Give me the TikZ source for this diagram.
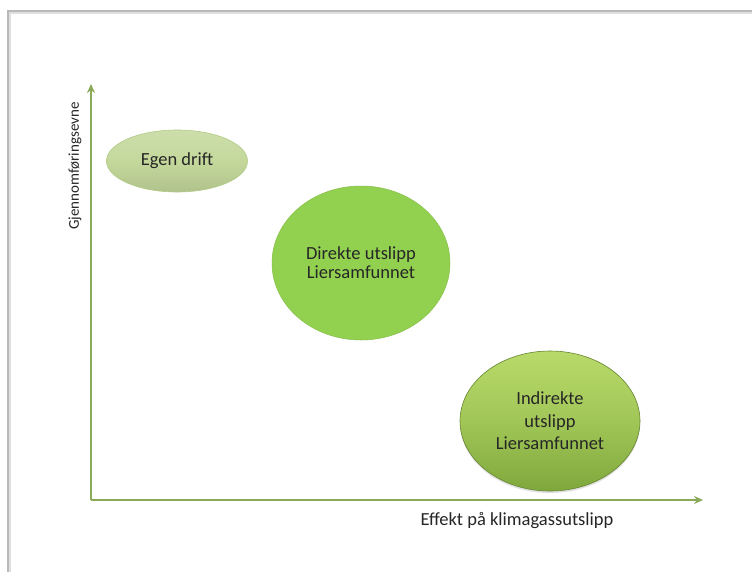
\documentclass[tikz,border=0pt]{standalone}
\usepackage{fontspec}
\setmainfont{Carlito}
\usetikzlibrary{shapes.geometric,arrows.meta,shadows}
\definecolor{axisgreen}{HTML}{8AAA5A}
\definecolor{egenfill}{HTML}{C4D89C}
\definecolor{egenedge}{HTML}{B2CB84}
\definecolor{direkte}{HTML}{92D050}
\definecolor{indtop}{HTML}{B8DA6A}
\definecolor{indbot}{HTML}{7FA83C}
\definecolor{txt}{HTML}{262626}
\tikzset{
  bubble/.style={ellipse, inner sep=0pt, align=center, font=\fontsize{18.5}{22.5}\selectfont, text=txt},
  axis/.style={draw=axisgreen, line width=2.2pt, -{Stealth[length=9pt,width=8pt]}},
  axislabel/.style={font=\fontsize{18.5}{22}\selectfont, text=txt},
  ylabelstyle/.style={font=\fontsize{15}{18}\selectfont, text=txt}
}
\begin{document}
\begin{tikzpicture}[x=1pt,y=-1pt]
\useasboundingbox (0,0) rectangle (752,571);
\fill[white] (0,0) rectangle (752,571);
% frame
\draw[gray!25, line width=4pt] (9,600) -- (9,12) -- (780,12);
\draw[gray!55, line width=1.2pt] (8,600) -- (8,11) -- (780,11);
% axes
\coordinate (O) at (91,500);
\coordinate (Ytip) at (91,84);
\coordinate (Xtip) at (703,500);
\draw[axis] (O) -- (Ytip);
\draw[axis] (O) -- (Xtip);
\node[ylabelstyle, rotate=90] (ylab) at (75,166) {Gjennomføringsevne};
\node[axislabel] (xlab) at (517,521) {Effekt på klimagassutslipp};
% bubbles
\node[bubble, minimum width=141pt, minimum height=62pt,
  top color=egenfill!85!white, bottom color=egenfill!90!black, middle color=egenfill,
  draw=egenedge, line width=0.6pt] (egen) at (177,161) {Egen drift};
\node[bubble, minimum width=178pt, minimum height=154pt,
  fill=direkte, draw=direkte!92!black, line width=0.5pt,
  font=\fontsize{18.5}{19}\selectfont] (dir) at (361,263) {Direkte utslipp\\Liersamfunnet};
\node[bubble, minimum width=180pt, minimum height=140pt,
  top color=indtop, bottom color=indbot, middle color=indtop!60!indbot,
  draw=indbot!80!black, line width=0.6pt,
  drop shadow={shadow xshift=0pt, shadow yshift=-2pt, opacity=0.25}] (ind) at (550,421) {Indirekte\\utslipp\\Liersamfunnet};
\end{tikzpicture}
\end{document}
